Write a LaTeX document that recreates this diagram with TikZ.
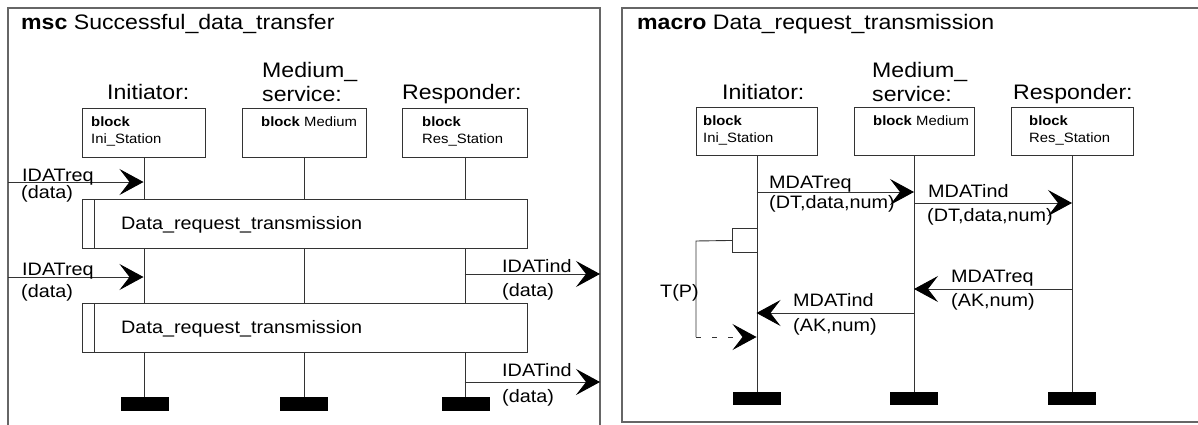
\documentclass[tikz,border=0pt]{standalone}
\usepackage{fontspec}
\setmainfont{Liberation Sans}[FakeStretch=1.1]
\usetikzlibrary{arrows.meta}
\newcommand\fbig{\fontsize{21}{24}\selectfont}
\newcommand\fmsg{\fontsize{18}{21}\selectfont}
\newcommand\fsml{\fontsize{13.5}{16}\selectfont}
\begin{document}
\begin{tikzpicture}[x=1pt,y=-1pt,
  frameline/.style={draw=black!60, line width=1.3pt},
  instbox/.style={draw=black!80, line width=0.9pt, rectangle, inner sep=0pt, anchor=north west},
  life/.style={draw=black!80, line width=0.9pt},
  endbar/.style={fill=black, draw=none, rectangle, inner sep=0pt, minimum width=48pt, minimum height=14pt},
  msg/.style={draw=black!80, line width=0.9pt, -{Stealth[length=24pt,width=26pt,inset=10pt,color=black]}},
  txt/.style={inner sep=0pt, anchor=base west, text=black},
  big/.style={txt, font=\fbig},
  mtxt/.style={txt, font=\fmsg},
  stxt/.style={txt, font=\fsml}]
\useasboundingbox (0,0) rectangle (1198,425);
% ---------------- left panel ----------------
\draw[frameline] (8,425) -- (8,8) -- (600,8) -- (600,425);
\node[big] (ltitle) at (21,30) {\textbf{msc} Successful\_data\_transfer};
\node[big] (lini) at (107,100) {Initiator:};
\node[big] (lmed1) at (262,78) {Medium\_};
\node[big] (lmed2) at (262,102) {service:};
\node[big] (lres) at (402,100) {Responder:};
\node[instbox, minimum width=123pt, minimum height=49pt] (LI) at (82,108) {};
\node[instbox, minimum width=124pt, minimum height=49pt] (LM) at (242,108) {};
\node[instbox, minimum width=125pt, minimum height=49pt] (LR) at (402,108) {};
\node[stxt] at (91,126) {\textbf{block}};
\node[stxt] at (91,143) {Ini\_Station};
\node[stxt] at (261,126) {\textbf{block} Medium};
\node[stxt] at (422,126) {\textbf{block}};
\node[stxt] at (422,143) {Res\_Station};
% reference boxes
\node[instbox, minimum width=445pt, minimum height=49pt] (LD1) at (82,199) {};
\node[instbox, minimum width=445pt, minimum height=49pt] (LD2) at (82,303) {};
\draw[life] (94,199) -- (94,248);
\draw[life] (94,303) -- (94,352);
\node[mtxt] at (121,229) {Data\_request\_transmission};
\node[mtxt] at (121,333) {Data\_request\_transmission};
% end bars
\node[endbar] (LIb) at (145,404) {};
\node[endbar] (LMb) at (304,404) {};
\node[endbar] (LRb) at (466,404) {};
% lifelines
\draw[life] (LI.south) -- (LI.south |- LD1.north);
\draw[life] (LI.south |- LD1.south) -- (LI.south |- LD2.north);
\draw[life] (LI.south |- LD2.south) -- (LI.south |- LIb.north);
\draw[life] (LM.south) -- (LM.south |- LD1.north);
\draw[life] (LM.south |- LD1.south) -- (LM.south |- LD2.north);
\draw[life] (LM.south |- LD2.south) -- (LM.south |- LMb.north);
\draw[life] (LR.south) -- (LR.south |- LD1.north);
\draw[life] (LR.south |- LD1.south) -- (LR.south |- LD2.north);
\draw[life] (LR.south |- LD2.south) -- (LR.south |- LRb.north);
% messages
\coordinate (e1) at (8,182);   \coordinate (i1) at (143.5,182);
\coordinate (e2) at (8,277);   \coordinate (i2) at (143.5,277);
\coordinate (r3) at (464.5,274); \coordinate (e3) at (600,274);
\coordinate (r4) at (464.5,382); \coordinate (e4) at (600,382);
\draw[msg] (e1) -- (i1);
\draw[msg] (e2) -- (i2);
\draw[msg] (r3) -- (e3);
\draw[msg] (r4) -- (e4);
\node[mtxt] at (22,181) {IDATreq};
\node[mtxt] at (21,198) {(data)};
\node[mtxt] at (22,275) {IDATreq};
\node[mtxt] at (21,297) {(data)};
\node[mtxt] at (502,272) {IDATind};
\node[mtxt] at (502,296) {(data)};
\node[mtxt] at (502,376) {IDATind};
\node[mtxt] at (502,402) {(data)};
% ---------------- right panel ----------------
\draw[frameline] (1200,8) -- (622,8) -- (622,422) -- (1200,422);
\node[big] (rtitle) at (637,30) {\textbf{macro} Data\_request\_transmission};
\node[big] (rini) at (722,100) {Initiator:};
\node[big] (rmed1) at (872,78) {Medium\_};
\node[big] (rmed2) at (872,102) {service:};
\node[big] (rres) at (1013,100) {Responder:};
\node[instbox, minimum width=121pt, minimum height=48pt] (RI) at (696,107) {};
\node[instbox, minimum width=120pt, minimum height=48pt] (RM) at (854,107) {};
\node[instbox, minimum width=122pt, minimum height=48pt] (RR) at (1011,107) {};
\node[stxt] at (703,125) {\textbf{block}};
\node[stxt] at (703,142) {Ini\_Station};
\node[stxt] at (873,125) {\textbf{block} Medium};
\node[stxt] at (1029,125) {\textbf{block}};
\node[stxt] at (1029,142) {Res\_Station};
\node[endbar, minimum height=13pt] (RIb) at (757,398.5) {};
\node[endbar, minimum height=13pt] (RMb) at (914,398.5) {};
\node[endbar, minimum height=13pt] (RRb) at (1072,398.5) {};
\draw[life] (RI.south) -- (RI.south |- RIb.north);
\draw[life] (RM.south) -- (RM.south |- RMb.north);
\draw[life] (RR.south) -- (RR.south |- RRb.north);
% messages
\coordinate (a1) at (756.5,192); \coordinate (b1) at (914,192);
\coordinate (a2) at (914,203);   \coordinate (b2) at (1072,203);
\coordinate (a3) at (1072,289);  \coordinate (b3) at (914,289);
\coordinate (a4) at (914,313);   \coordinate (b4) at (756.5,313);
\draw[msg] (a1) -- (b1);
\draw[msg] (a2) -- (b2);
\draw[msg] (a3) -- (b3);
\draw[msg] (a4) -- (b4);
\node[mtxt] at (769,188) {MDATreq};
\node[mtxt] at (769,208) {(DT,data,num)};
\node[mtxt] at (928,197) {MDATind};
\node[mtxt] at (927,221) {(DT,data,num)};
\node[mtxt] at (951,282) {MDATreq};
\node[mtxt] at (951,306) {(AK,num)};
\node[mtxt] at (793,306) {MDATind};
\node[mtxt] at (793,331) {(AK,num)};
% timer
\node[draw=black!80, line width=0.9pt, rectangle, inner sep=0pt, minimum width=24.5pt, minimum height=24pt, anchor=north west] (tset) at (732,228) {};
\coordinate (tc1) at (696,241);
\coordinate (tc2) at (696,337);
\coordinate (tend) at (756.5,337);
\draw[life] (tset.west) -- (tc1) -- (tc2);
\draw[msg, dash pattern=on 5pt off 11pt] (tc2) -- (tend);
\node[mtxt] (tp) at (660,297) {T(P)};
\end{tikzpicture}
\end{document}
